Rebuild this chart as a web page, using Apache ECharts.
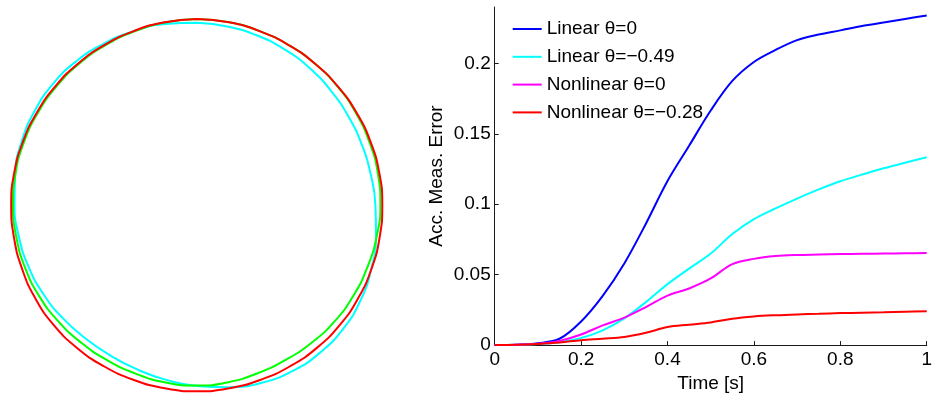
<!DOCTYPE html>
<html>
<head>
<meta charset="utf-8">
<script src="https://cdn.jsdelivr.net/npm/echarts@6/dist/echarts.min.js"></script>
<style>
html,body{margin:0;padding:0;background:#fff;}
#c{width:935px;height:398px;}
</style>
</head>
<body>
<div id="c"></div>
<script>
// ---- Right panel data ----
var timeValues = [0,0.05,0.1,0.15,0.2,0.25,0.3,0.35,0.4,0.45,0.5,0.55,0.6,0.65,0.7,0.75,0.8,0.85,0.9,0.95,1.0];
var linear0 = [0,0.0003,0.0013,0.0045,0.0168,0.035,0.058,0.0862,0.1165,0.1415,0.1665,0.1875,0.201,0.2095,0.2165,0.2205,0.2234,0.2265,0.229,0.2315,0.234];
var linear049 = [0,0.0002,0.0008,0.002,0.005,0.0105,0.019,0.0305,0.0433,0.0543,0.065,0.0788,0.0894,0.097,0.104,0.1105,0.1163,0.121,0.1255,0.1295,0.1333];
var nonlinear0 = [0,0.0003,0.001,0.003,0.0075,0.014,0.0195,0.027,0.0351,0.0402,0.0473,0.0575,0.0612,0.0632,0.064,0.0643,0.0646,0.0648,0.065,0.0652,0.0653];
var nonlinear028 = [0,0.0002,0.0008,0.0018,0.0035,0.0045,0.0057,0.0087,0.0128,0.0145,0.0161,0.0187,0.0203,0.0212,0.0218,0.0222,0.0227,0.023,0.0233,0.0237,0.0241];
var seriesNames = ['Linear \u03b8=0','Linear \u03b8=\u22120.49','Nonlinear \u03b8=0','Nonlinear \u03b8=\u22120.28'];
var yTicks = [0,0.05,0.1,0.15,0.2];

// ---- Left panel data: traced contour radius at each angle (degrees clockwise from top) ----
var contourAngles = [0,10,20,30,40,50,60,70,80,90,100,110,120,130,140,150,160,170,180,190,200,210,220,230,240,250,260,270,280,290,300,310,320,330,340,350,360];
var radiusCyan  = [182.3,181,179.8,178.5,177.2,176,175.4,175.5,176.4,178.4,181.8,185.6,189.2,191.5,192.2,191.6,189.2,185,181,177.6,175,173.7,173.9,175.6,177.6,179.4,180.9,182.5,184.6,186.5,187.6,188.2,187.7,186.3,185,183.8,182.3];
var radiusGreen = [186,185.5,184.8,184.3,184,183.8,183.6,183.5,183.6,183.4,182.4,181.4,180.8,180.2,179.2,178.5,178.8,179.9,180.6,180.2,179.5,179.3,179.9,181,182.2,183,183.5,184,184.2,184.1,183.9,183.9,184,184.1,184.6,185.3,186];
var radiusRed   = [186,185.5,184.8,184.3,184.1,184.1,184.3,184.7,185.1,185.3,185.5,185.8,186.2,186.5,186.5,186.2,186,186.1,186.3,186.1,186,186.2,186.6,186.9,186.7,186.2,185.9,185.8,185.6,185.2,184.9,184.8,184.8,184.8,185.1,185.6,186];

function pairs(xs, ys){ return xs.map(function(x,i){return [x, ys[i]];}); }
function polarPairs(rs, angles){ return rs.map(function(r,i){return [r, angles[i]];}); }

var FONT = "'Liberation Sans', Arial, Helvetica, sans-serif";
var axisColor = '#1a1a1a';

var chart = echarts.init(document.getElementById('c'), null, {renderer:'canvas'});
var option = {
  animation: false,
  backgroundColor: '#fff',
  textStyle: {fontFamily: FONT},
  polar: {center: [197, 205], radius: 200},
  angleAxis: {type: 'value', min: 0, max: 360, startAngle: 90, clockwise: true, show: false},
  radiusAxis: {type: 'value', min: 0, max: 200, show: false},
  grid: {left: 494.7, top: 7, right: 6, bottom: 49},
  xAxis: {type: 'value', min: 0, max: 1, interval: 0.2,
     name: 'Time [s]', nameLocation: 'middle', nameGap: 24,
     nameTextStyle: {fontSize: 19, color: '#000', fontFamily: FONT},
     axisLine: {show: true, onZero: false, lineStyle: {color: axisColor, width: 1}},
     axisTick: {show: true, inside: true, length: 4, lineStyle: {color: axisColor}},
     axisLabel: {fontSize: 19, color: '#000', margin: 5, fontFamily: FONT},
     splitLine: {show: false}},
  yAxis: {type: 'value', min: 0, max: 0.24, interval: 0.05,
     name: 'Acc. Meas. Error', nameLocation: 'middle', nameGap: 48,
     nameTextStyle: {fontSize: 19, color: '#000', fontFamily: FONT},
     axisLine: {show: true, onZero: false, lineStyle: {color: axisColor, width: 1}},
     axisTick: {show: true, inside: true, length: 4, lineStyle: {color: axisColor}, customValues: yTicks},
     axisLabel: {fontSize: 19, color: '#000', margin: 4, fontFamily: FONT, customValues: yTicks},
     splitLine: {show: false}},
  legend: {
    orient: 'vertical', left: 507.7, top: 14,
    icon: 'rect', itemWidth: 29, itemHeight: 2, itemGap: 7.8,
    data: seriesNames,
    textStyle: {fontSize: 19, color: '#000', fontFamily: FONT, lineHeight: 20}
  },
  series: [
    {name: 'cyan contour', type: 'line', coordinateSystem: 'polar', data: polarPairs(radiusCyan, contourAngles), smooth: 0.5, symbol: 'none', lineStyle: {color: '#00ffff', width: 2}},
    {name: 'green contour', type: 'line', coordinateSystem: 'polar', data: polarPairs(radiusGreen, contourAngles), smooth: 0.5, symbol: 'none', lineStyle: {color: '#00ff00', width: 2}},
    {name: 'red contour', type: 'line', coordinateSystem: 'polar', data: polarPairs(radiusRed, contourAngles), smooth: 0.5, symbol: 'none', lineStyle: {color: '#ff0000', width: 2}},
    {name: seriesNames[0], type: 'line', data: pairs(timeValues, linear0), smooth: 0.35, symbol: 'none', lineStyle: {color: '#0000ff', width: 2}, itemStyle: {color: '#0000ff'}},
    {name: seriesNames[1], type: 'line', data: pairs(timeValues, linear049), smooth: 0.35, symbol: 'none', lineStyle: {color: '#00ffff', width: 2}, itemStyle: {color: '#00ffff'}},
    {name: seriesNames[2], type: 'line', data: pairs(timeValues, nonlinear0), smooth: 0.35, symbol: 'none', lineStyle: {color: '#ff00ff', width: 2}, itemStyle: {color: '#ff00ff'}},
    {name: seriesNames[3], type: 'line', data: pairs(timeValues, nonlinear028), smooth: 0.35, symbol: 'none', lineStyle: {color: '#ff0000', width: 2}, itemStyle: {color: '#ff0000'}}
  ]
};
chart.setOption(option);
</script>
</body>
</html>
